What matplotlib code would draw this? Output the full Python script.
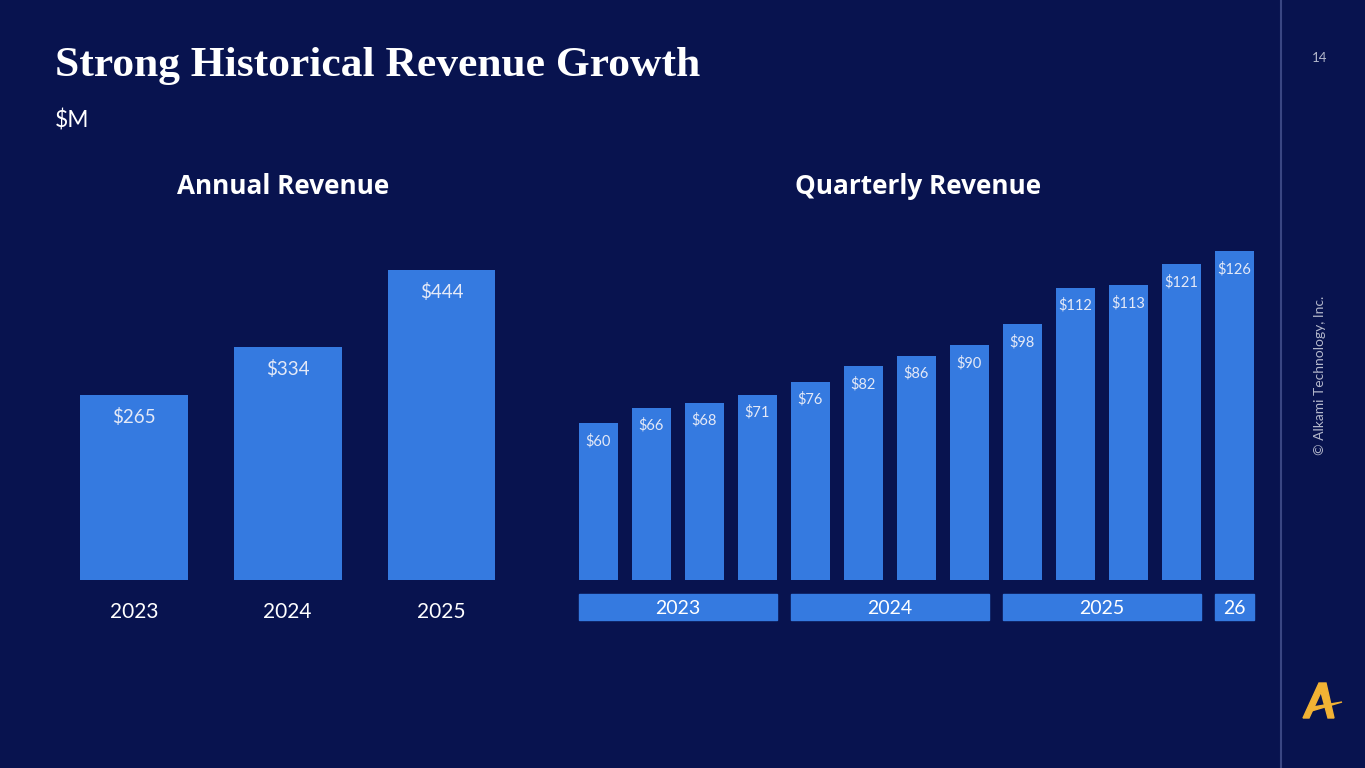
"""Alkami style revenue slide: annual and quarterly bars
"""

import matplotlib.pyplot as plt
from matplotlib.patches import Rectangle, Polygon
from matplotlib.transforms import blended_transform_factory

years = ['2023', '2024', '2025']
annual = [265, 334, 444]

quarterly = [60, 66, 68, 71, 76, 82, 86, 90, 98, 112, 113, 121, 126]
groups = ['2023', '2024', '2025', '26']
group_sizes = [4, 4, 4, 1]

BG = '#08134f'
BAR = '#357ae0'
TXT = '#ffffff'
LBL = '#e4e9f7'
SANS = ['Lato', 'DejaVu Sans']
HEAD = ['Open Sans', 'DejaVu Sans']

W, H = 1365, 768
fig = plt.figure(figsize=(W / 100, H / 100), dpi=100, facecolor=BG)


def px_axes(x0, y_top, x1, y_bot):
    return fig.add_axes([x0 / W, 1 - y_bot / H, (x1 - x0) / W, (y_bot - y_top) / H])


# annual
ax1 = px_axes(57, 220, 518.5, 580)
ax1.set_facecolor(BG)
xs = range(len(annual))
bars = ax1.bar(xs, annual, width=0.70, color=BAR)
ax1.set_xlim(-0.5, 2.5)
ax1.set_ylim(0, 360 / 0.699)
for b, v in zip(bars, annual):
    ax1.annotate(f'${v}', (b.get_x() + b.get_width() / 2, v), xytext=(0, -22),
                 textcoords='offset pixels', ha='center', va='center',
                 color=LBL, fontsize=13.5, family=SANS)
ax1.set_xticks(list(xs), years)
ax1.tick_params(axis='x', length=0, pad=16, labelsize=15, labelcolor=TXT)
for lab in ax1.get_xticklabels():
    lab.set_family(SANS)
ax1.set_yticks([])
for s in ax1.spines.values():
    s.set_visible(False)

# quarterly
ax2 = px_axes(572, 220, 1260.5, 580)
ax2.set_facecolor(BG)
qx = range(len(quarterly))
bw = 0.736
qbars = ax2.bar(qx, quarterly, width=bw, color=BAR)
ax2.set_xlim(-0.5, 12.5)
ax2.set_ylim(0, 360 / 2.61)
for b, v in zip(qbars, quarterly):
    ax2.annotate(f'${v}', (b.get_x() + b.get_width() / 2, v), xytext=(0, -18),
                 textcoords='offset pixels', ha='center', va='center',
                 color=LBL, fontsize=10.5, family=SANS)
ax2.set_xticks([])
ax2.set_yticks([])
for s in ax2.spines.values():
    s.set_visible(False)

# year bands under the quarterly bars
tr = blended_transform_factory(ax2.transData, ax2.transAxes)
start = 0
for g, n in zip(groups, group_sizes):
    left = start - bw / 2
    right = start + n - 1 + bw / 2
    ax2.add_patch(Rectangle((left, -40 / 360), right - left, 26 / 360, transform=tr,
                            color=BAR, clip_on=False))
    ax2.text((left + right) / 2, -28 / 360, g, transform=tr, ha='center', va='center',
             color=TXT, fontsize=14, family=SANS)
    start += n

# titles and slide furniture
fig.text(55 / W, 1 - 66 / H, 'Strong Historical Revenue Growth', color=TXT,
         fontsize=31.3, fontweight='bold', family=['Liberation Serif', 'DejaVu Serif'],
         va='center', ha='left')
fig.text(55 / W, 1 - 120 / H, '$M', color=TXT, fontsize=16.5, family=SANS,
         va='center', ha='left')
fig.text(283 / W, 1 - 186 / H, 'Annual Revenue', color=TXT, fontsize=18.8,
         fontweight='bold', family=HEAD, ha='center', va='center')
fig.text(918 / W, 1 - 186 / H, 'Quarterly Revenue', color=TXT, fontsize=18.8,
         fontweight='bold', family=HEAD, ha='center', va='center')

fig.add_artist(plt.Line2D([1281 / W, 1281 / W], [0, 1], color='#3a4683', lw=1.5))
fig.text(1320 / W, 1 - 58 / H, '14', color='#b4b8cc', fontsize=9.5,
         family=SANS, ha='center', va='center')
fig.text(1320 / W, 1 - 375 / H, '© Alkami Technology, Inc.', color='#b4b8cc',
         fontsize=10, family=SANS, ha='center', va='center', rotation=90)

# logo mark
def fpt(x, y):
    return (x / W, 1 - y / H)

gold = '#f2b234'
fig.add_artist(Polygon([fpt(1303, 718), fpt(1319, 683), fpt(1326, 683),
                        fpt(1334, 718), fpt(1328, 718), fpt(1321, 692),
                        fpt(1309, 718)], closed=True, color=gold,
                       transform=fig.transFigure))
fig.add_artist(Polygon([fpt(1308, 712), fpt(1342, 702), fpt(1313, 707)],
                       closed=True, color=gold, transform=fig.transFigure))

fig.savefig('out.png', dpi=100, facecolor=BG)
